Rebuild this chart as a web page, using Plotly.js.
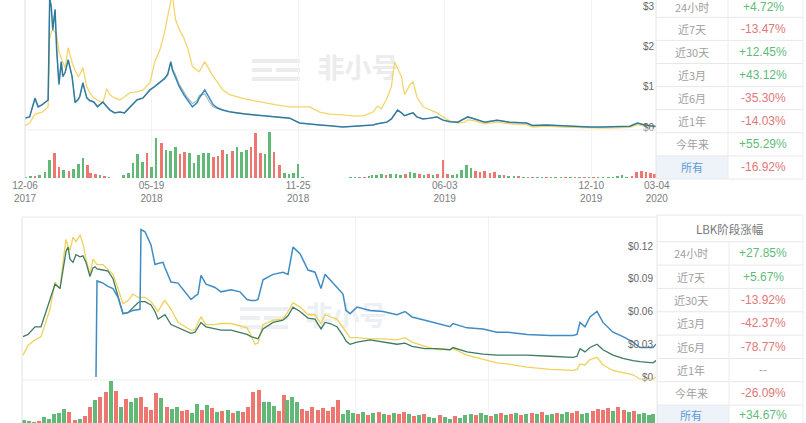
<!DOCTYPE html>
<html><head><meta charset="utf-8">
<script src="https://cdn.plot.ly/plotly-3.0.1.min.js"></script>
<style>html,body{margin:0;padding:0;background:#fff;}#chart{width:806px;height:423px;}</style>
</head><body><div id="chart"></div>
<script>
// ================= DATA =================
// --- upper chart: price lines ---
const topDates = ['2017-12-06','2017-12-12','2017-12-19','2017-12-23','2017-12-28','2018-01-01','2018-01-05','2018-01-07','2018-01-09','2018-01-11',
'2018-01-14','2018-01-16','2018-01-19','2018-01-22','2018-01-24','2018-01-27','2018-01-31','2018-02-05','2018-02-09','2018-02-13',
'2018-02-15','2018-02-19','2018-02-24','2018-02-28','2018-03-05','2018-03-10','2018-03-17','2018-03-22','2018-03-26','2018-04-01',
'2018-04-08','2018-04-14','2018-04-21','2018-04-30','2018-05-08','2018-05-17','2018-05-23','2018-05-30','2018-06-05','2018-06-09',
'2018-06-13','2018-06-15','2018-06-19','2018-06-24','2018-06-30','2018-07-05','2018-07-11','2018-07-17','2018-07-20','2018-07-27',
'2018-08-02','2018-08-07','2018-08-13','2018-08-19','2018-08-28','2018-09-06','2018-09-17','2018-09-30','2018-10-13','2018-10-28',
'2018-11-14','2018-11-27','2018-12-10','2018-12-23','2019-01-05','2019-01-22','2019-02-06','2019-02-19','2019-03-02','2019-03-08',
'2019-03-13','2019-03-20','2019-03-26','2019-03-30','2019-04-03','2019-04-08','2019-04-12','2019-04-19','2019-04-23','2019-04-28',
'2019-05-06','2019-05-15','2019-05-24','2019-06-01','2019-06-10','2019-06-20','2019-06-29','2019-07-03','2019-07-12','2019-07-25',
'2019-08-10','2019-08-26','2019-09-17','2019-09-25','2019-10-13','2019-11-03','2019-11-21','2019-12-08','2019-12-25','2020-01-12',
'2020-01-29','2020-02-08','2020-02-15','2020-02-24','2020-03-03'];
const topBlue = [0.22,0.25,0.72,0.50,0.55,0.60,0.67,3.20,3.00,2.40,
2.92,1.92,1.05,1.62,1.25,1.35,1.67,1.25,0.60,0.68,
0.75,1.10,0.72,0.65,0.62,0.50,0.62,0.50,0.42,0.35,
0.37,0.35,0.50,0.67,0.72,0.92,1.00,1.10,1.20,1.30,
1.62,1.42,1.25,1.00,0.80,0.65,0.50,0.60,0.72,0.92,
0.70,0.55,0.47,0.42,0.38,0.35,0.32,0.30,0.28,0.25,
0.22,0.10,0.07,0.05,0.03,0.00,0.02,0.03,0.05,0.08,
0.10,0.12,0.20,0.30,0.42,0.35,0.28,0.33,0.35,0.25,
0.20,0.22,0.25,0.17,0.13,0.12,0.20,0.25,0.20,0.12,
0.17,0.12,0.10,0.04,0.05,0.03,0.02,0.00,0.00,0.01,
0.02,0.10,0.06,0.03,0.02];
const topGreen = [0.22,0.25,0.70,0.50,0.55,0.60,0.67,3.15,2.95,2.45,
2.90,1.95,1.10,1.60,1.28,1.35,1.65,1.27,0.62,0.70,
0.77,1.08,0.74,0.66,0.63,0.52,0.62,0.52,0.43,0.36,
0.37,0.35,0.50,0.67,0.72,0.92,1.00,1.12,1.22,1.32,
1.60,1.45,1.30,1.05,0.85,0.72,0.58,0.65,0.78,0.82,
0.62,0.50,0.45,0.42,0.38,0.35,0.32,0.30,0.28,0.25,
0.22,0.10,0.07,0.05,0.03,0.00,0.02,0.03,0.05,0.08,
0.10,0.12,0.20,0.30,0.42,0.35,0.28,0.33,0.35,0.25,
0.20,0.22,0.25,0.17,0.13,0.12,0.20,0.25,0.20,0.12,
0.17,0.12,0.10,0.04,0.05,0.03,0.02,0.00,0.00,0.01,
0.02,0.10,0.06,0.03,0.02];
const topYellow = [0.03,0.10,0.32,0.35,0.37,0.42,0.50,2.20,2.35,2.42,
2.35,2.30,1.85,1.70,1.60,1.47,1.97,1.60,1.40,1.25,
1.30,1.47,1.00,0.85,0.72,0.67,0.60,0.95,0.80,0.72,
0.67,0.75,0.85,0.87,0.92,1.10,1.60,1.92,2.35,2.75,
3.20,3.30,2.67,2.42,2.20,1.95,1.50,1.40,1.37,1.62,
1.42,1.25,1.10,0.92,0.80,0.75,0.70,0.65,0.60,0.55,
0.50,0.50,0.50,0.37,0.32,0.30,0.27,0.28,0.37,0.52,
0.45,0.70,1.00,1.62,1.47,1.25,0.80,1.05,1.12,0.75,
0.50,0.42,0.35,0.25,0.15,0.10,0.12,0.18,0.15,0.08,
0.12,0.08,0.06,0.00,0.02,0.00,-0.01,-0.03,-0.03,-0.02,
-0.01,0.06,0.03,0.01,0.00];

// --- upper chart: volume bars ---
const topVolDates = ['2017-12-07','2017-12-13','2017-12-19','2017-12-25',
'2018-01-01','2018-01-07','2018-01-13','2018-01-19','2018-01-25','2018-02-01','2018-02-07','2018-02-13','2018-02-19','2018-02-25',
'2018-03-01','2018-03-07','2018-03-13','2018-03-19','2018-03-25','2018-04-01','2018-04-07','2018-04-13','2018-04-19','2018-04-25',
'2018-05-01','2018-05-07','2018-05-13','2018-05-19','2018-05-25','2018-06-01','2018-06-07','2018-06-13','2018-06-19','2018-06-25',
'2018-07-01','2018-07-07','2018-07-13','2018-07-19','2018-07-25','2018-08-01','2018-08-07','2018-08-13','2018-08-19','2018-08-25',
'2018-09-01','2018-09-07','2018-09-13','2018-09-19','2018-09-25','2018-10-01','2018-10-07','2018-10-13','2018-10-19','2018-10-25',
'2018-11-01','2018-11-07','2018-11-13','2018-11-19','2018-11-25','2018-12-01','2018-12-07','2018-12-13','2018-12-19','2018-12-25',
'2019-01-01','2019-01-07','2019-01-13','2019-01-19','2019-01-25','2019-02-01','2019-02-07','2019-02-13','2019-02-19','2019-02-25',
'2019-03-01','2019-03-07','2019-03-13','2019-03-19','2019-03-25','2019-04-01','2019-04-07','2019-04-13','2019-04-19','2019-04-25',
'2019-05-01','2019-05-07','2019-05-13','2019-05-19','2019-05-25','2019-06-01','2019-06-07','2019-06-13','2019-06-19','2019-06-25',
'2019-07-01','2019-07-07','2019-07-13','2019-07-19','2019-07-25','2019-08-01','2019-08-07','2019-08-13','2019-08-19','2019-08-25',
'2019-09-01','2019-09-07','2019-09-13','2019-09-19','2019-09-25','2019-10-01','2019-10-07','2019-10-13','2019-10-19','2019-10-25',
'2019-11-01','2019-11-07','2019-11-13','2019-11-19','2019-11-25','2019-12-01','2019-12-07','2019-12-13','2019-12-19','2019-12-25',
'2020-01-01','2020-01-07','2020-01-13','2020-01-19','2020-01-25','2020-02-01','2020-02-07','2020-02-13','2020-02-19','2020-02-25',
'2020-03-01'];
const topVol = [1,2,2,3,
6,18,25,11,8, 7,9,14,20,13,
5,4,3,2,1.5, 0.5,0.5,3,5,15,
24,16,25,11,40, 35,28,27,31,24,
26,25,15,23,25, 25,21,22,28,24,
27,31,26,28,31, 45,25,24,46,26,
13,5,4,5,14, 1,0.5,0.5,0.5,0.5,
0.5,0.5,0.5,0.5,0.5, 0.7,1,1.5,1.5,2,
3,3,4,3,4, 4,3,4,6,5,
4,3,4,3,4, 18,4,3,4,8,
13,10,7,6,7, 5,6,3,3,2,
2,2,1.5,1.5,1, 1,1,0.7,0.7,0.7,
0.7,0.7,0.7,0.7,0.7, 0.7,0.7,0.7,0.7,0.7,
1,1,2,3,1.5, 2,6,7,6,5,
4];
const topVolUp = [1,1,0,1,
1,1,0,0,1, 0,1,1,1,0,
0,0,1,0,1, 1,0,1,1,1,
1,1,0,1,1, 0,1,1,1,0,
0,1,1,1,1, 1,0,0,0,1,
0,1,1,1,0, 0,0,1,1,0,
0,1,1,1,1, 1,1,0,1,0,
1,0,1,0,1, 1,1,1,0,1,
1,1,1,0,1, 1,1,0,1,1,
0,1,0,1,0, 0,0,1,1,1,
1,1,0,0,0, 0,0,1,0,1,
1,0,1,1,0, 1,1,0,1,1,
1,0,1,0,1, 0,1,0,1,1,
1,1,1,1,1, 0,0,0,0,0,
0];

const topTickDates = ['2017-12-06','2018-05-19','2018-11-25','2019-06-03','2019-12-10','2020-03-04'];
const topTickLabels = ['12-06<br>2017','05-19<br>2018','11-25<br>2018','06-03<br>2019','12-10<br>2019','03-04<br>2020'];
const topPriceTicks = [0,1,2,3];
const topPriceLabels = ['$0','$1','$2','$3'];

// --- lower chart: price lines ---
const botDates = ['2018-06-10','2018-06-15','2018-06-22','2018-06-28','2018-07-02','2018-07-07','2018-07-12','2018-07-17','2018-07-20','2018-07-23',
'2018-07-25','2018-07-27','2018-07-30','2018-08-02','2018-08-06','2018-08-09','2018-08-12','2018-08-16','2018-08-19','2018-08-21',
'2018-08-22','2018-08-23','2018-08-29','2018-09-03','2018-09-08','2018-09-13','2018-09-18','2018-09-23','2018-09-28','2018-10-03',
'2018-10-05','2018-10-06','2018-10-10','2018-10-16','2018-10-20','2018-10-23','2018-10-28','2018-10-30','2018-11-05','2018-11-12',
'2018-11-19','2018-11-25','2018-11-29','2018-12-02','2018-12-05','2018-12-10','2018-12-19','2018-12-25','2019-01-04','2019-01-13',
'2019-01-20','2019-01-24','2019-01-28','2019-01-31','2019-02-05','2019-02-15','2019-02-25','2019-03-02','2019-03-07','2019-03-14',
'2019-03-22','2019-03-29','2019-04-04','2019-04-08','2019-04-13','2019-04-20','2019-04-26','2019-04-29','2019-05-03','2019-05-10',
'2019-05-23','2019-06-05','2019-06-19','2019-06-27','2019-07-04','2019-07-17','2019-07-29','2019-08-11','2019-08-14','2019-08-28',
'2019-09-13','2019-09-27','2019-10-07','2019-10-27','2019-11-19','2019-12-12','2019-12-16','2019-12-19','2019-12-24','2019-12-29',
'2020-01-05','2020-01-11','2020-01-21','2020-01-31','2020-02-10','2020-02-17','2020-03-01','2020-03-04'];
const botYellow = [0.020,0.029,0.034,0.037,0.048,0.062,0.087,0.081,0.105,0.126,
0.120,0.116,0.128,0.124,0.130,0.122,0.108,0.094,0.108,0.106,
0.104,0.103,0.103,0.098,0.094,0.081,0.067,0.070,0.076,0.073,
0.073,0.073,0.073,0.069,0.064,0.060,0.068,0.070,0.062,0.050,
0.046,0.043,0.043,0.050,0.055,0.048,0.048,0.049,0.049,0.047,
0.045,0.038,0.030,0.031,0.048,0.052,0.053,0.060,0.068,0.064,
0.057,0.057,0.049,0.057,0.055,0.053,0.045,0.042,0.036,0.036,
0.035,0.035,0.034,0.036,0.032,0.028,0.025,0.025,0.026,0.020,
0.016,0.013,0.012,0.009,0.007,0.006,0.007,0.012,0.011,0.016,
0.018,0.011,0.006,0.004,0.002,-0.002,-0.002,0.000];
const botGreen = [0.037,0.039,0.046,0.046,0.057,0.070,0.085,0.081,0.100,0.115,
0.119,0.108,0.105,0.112,0.110,0.111,0.105,0.092,0.100,0.101,
0.100,0.099,0.098,0.097,0.090,0.073,0.058,0.059,0.064,0.068,
0.069,0.069,0.069,0.066,0.060,0.053,0.056,0.057,0.048,0.045,
0.042,0.040,0.041,0.046,0.050,0.046,0.044,0.043,0.043,0.041,
0.039,0.037,0.036,0.035,0.044,0.050,0.052,0.056,0.064,0.060,
0.054,0.053,0.044,0.050,0.049,0.046,0.038,0.033,0.030,0.032,
0.034,0.032,0.030,0.031,0.028,0.026,0.026,0.025,0.027,0.023,
0.021,0.020,0.020,0.020,0.019,0.018,0.019,0.026,0.023,0.027,
0.030,0.025,0.020,0.017,0.015,0.014,0.013,0.015];
const botBlue = [null,null,null,null,null,null,null,null,null,null,
null,null,null,null,null,null,null,null,null,null,
0.000,0.088,0.086,0.083,0.081,0.073,0.058,0.059,0.061,0.062,
0.062,0.135,0.133,0.121,0.103,0.104,0.105,0.100,0.087,0.086,
0.078,0.071,0.074,0.076,0.093,0.085,0.082,0.078,0.080,0.078,
0.071,0.070,0.070,0.071,0.089,0.094,0.096,0.094,0.119,0.113,
0.098,0.096,0.081,0.094,0.089,0.082,0.076,0.061,0.058,0.064,
0.061,0.060,0.057,0.060,0.055,0.052,0.049,0.046,0.049,0.045,
0.044,0.041,0.041,0.039,0.038,0.038,0.039,0.050,0.046,0.055,
0.060,0.050,0.041,0.037,0.032,0.027,0.027,0.030];

// --- lower chart: volume bars ---
const botVolDates = ['2018-06-11','2018-06-16','2018-06-21','2018-06-26',
'2018-07-01','2018-07-06','2018-07-11','2018-07-16','2018-07-21','2018-07-26',
'2018-08-01','2018-08-06','2018-08-11','2018-08-16','2018-08-21','2018-08-26',
'2018-09-01','2018-09-06','2018-09-11','2018-09-16','2018-09-21','2018-09-26',
'2018-10-01','2018-10-06','2018-10-11','2018-10-16','2018-10-21','2018-10-26',
'2018-11-01','2018-11-06','2018-11-11','2018-11-16','2018-11-21','2018-11-26',
'2018-12-01','2018-12-06','2018-12-11','2018-12-16','2018-12-21','2018-12-26',
'2019-01-01','2019-01-06','2019-01-11','2019-01-16','2019-01-21','2019-01-26',
'2019-02-01','2019-02-06','2019-02-11','2019-02-16','2019-02-21','2019-02-26',
'2019-03-01','2019-03-06','2019-03-11','2019-03-16','2019-03-21','2019-03-26',
'2019-04-01','2019-04-06','2019-04-11','2019-04-16','2019-04-21','2019-04-26',
'2019-05-01','2019-05-06','2019-05-11','2019-05-16','2019-05-21','2019-05-26',
'2019-06-01','2019-06-06','2019-06-11','2019-06-16','2019-06-21','2019-06-26',
'2019-07-01','2019-07-06','2019-07-11','2019-07-16','2019-07-21','2019-07-26',
'2019-08-01','2019-08-06','2019-08-11','2019-08-16','2019-08-21','2019-08-26',
'2019-09-01','2019-09-06','2019-09-11','2019-09-16','2019-09-21','2019-09-26',
'2019-10-01','2019-10-06','2019-10-11','2019-10-16','2019-10-21','2019-10-26',
'2019-11-01','2019-11-06','2019-11-11','2019-11-16','2019-11-21','2019-11-26',
'2019-12-01','2019-12-06','2019-12-11','2019-12-16','2019-12-21','2019-12-26',
'2020-01-01','2020-01-06','2020-01-11','2020-01-16','2020-01-21','2020-01-26',
'2020-02-01','2020-02-06','2020-02-11','2020-02-16','2020-02-21','2020-02-26',
'2020-03-01'];
const botVol = [3,2,1,2,
6,4,9,10,14,11, 3,4,7,16,23,26, 31,42,32,16,24,21,
25,26,16,13,30,25, 16,14,16,12,13,10, 19,13,18,15,11,12,
13,10,12,11,16,31, 33,21,21,17,12,28, 23,26,21,14,12,16,
13,15,12,16,23,9, 13,10,9,11,8,10, 11,9,8,10,9,11,
9,7,8,9,6,5, 8,6,4,7,5,8, 9,8,10,8,7,9,
10,8,9,10,8,9, 10,9,11,8,9,10, 9,11,10,12,9,10,
12,14,13,15,12,16, 13,11,12,9,10,8,
9];
const botVolUp = [1,1,1,0,
1,1,1,1,1,0, 0,1,0,0,1,0, 0,1,0,1,0,1,
1,0,0,0,0,1, 0,1,1,0,0,1, 1,0,1,0,1,0,
1,0,1,0,0,0, 0,1,1,1,0,0, 1,1,1,0,0,0,
0,0,0,0,0,1, 1,1,0,1,0,1, 0,1,0,1,0,0,
1,0,1,0,1,1, 0,1,1,0,1,1, 1,0,1,1,0,1,
0,1,0,1,0,1, 0,1,0,1,1,0, 1,1,0,0,1,1,
0,0,0,0,1,0, 0,1,0,1,1,1,
1];
const botPriceTicks = [0,0.03,0.06,0.09,0.12];
const botPriceLabels = ['$0','$0.03','$0.06','$0.09','$0.12'];
const botGridDates = ['2019-05-08','2019-09-18'];

// --- tables ---
const periodLabels = ['24小时','近7天','近30天','近3月','近6月','近1年','今年来','所有'];
const topTableValues = ['+4.72%','-13.47%','+12.45%','+43.12%','-35.30%','-14.03%','+55.29%','-16.92%'];
const botTableTitle = 'LBK阶段涨幅';
const botTableValues = ['+27.85%','+5.67%','-13.92%','-42.37%','-78.77%','--','-26.09%','+34.67%'];
const watermarkText = '非小号';

// ================= RENDER =================
const W = 806, H = 423;
const px = v => v / W;          // horizontal pixel -> paper fraction
const py = v => 1 - v / H;      // vertical pixel (from top) -> paper fraction
const FONT = 'Liberation Sans, Arial, sans-serif';
const CJK = 'Noto Sans CJK SC, sans-serif';
const UP = '#55b36c', DOWN = '#ec6b66';
const DAY = 86400000;

const traces = [
  {type:'bar', x:topVolDates, y:topVol, xaxis:'x', yaxis:'y2', width:3.4*DAY,
   marker:{color:topVolUp.map(u => u ? UP : DOWN), line:{width:0}}, opacity:0.92, hoverinfo:'skip'},
  {type:'scatter', mode:'lines', x:topDates, y:topYellow, xaxis:'x', yaxis:'y', line:{color:'#f3d66a', width:1.3}},
  {type:'scatter', mode:'lines', x:topDates, y:topBlue, xaxis:'x', yaxis:'y', line:{color:'#3a88c4', width:1.5}},
  {type:'scatter', mode:'lines', x:topDates, y:topGreen, xaxis:'x', yaxis:'y', line:{color:'rgba(45,100,80,0.45)', width:1.1}},

  {type:'bar', x:botVolDates, y:botVol, xaxis:'x2', yaxis:'y4', width:3.1*DAY,
   marker:{color:botVolUp.map(u => u ? UP : DOWN), line:{width:0}}, opacity:0.92, hoverinfo:'skip'},
  {type:'scatter', mode:'lines', x:botDates, y:botYellow, xaxis:'x2', yaxis:'y3', line:{color:'#f0d25a', width:1.3}},
  {type:'scatter', mode:'lines', x:botDates, y:botGreen, xaxis:'x2', yaxis:'y3', line:{color:'#3f7b63', width:1.3}},
  {type:'scatter', mode:'lines', x:botDates, y:botBlue, xaxis:'x2', yaxis:'y3', line:{color:'#3f8cc4', width:1.5}, connectgaps:false}
];

const shapes = [];
const annotations = [];
const ln = (x0,y0,x1,y1,color,layer) => shapes.push({type:'line', xref:'paper', yref:'paper',
  x0:px(x0), y0:py(y0), x1:px(x1), y1:py(y1), line:{color:color||'#e6e6e6', width:1}, layer:layer||'above'});
const rect = (x0,y0,x1,y1,fill,layer) => shapes.push({type:'rect', xref:'paper', yref:'paper',
  x0:px(x0), y0:py(y0), x1:px(x1), y1:py(y1), line:{width:0}, fillcolor:fill, layer:layer||'above'});

// watermarks (behind lines)
const wm = (cx, cy, col) => {
  rect(cx-78, cy-11, cx-30, cy-7, col, 'below');
  rect(cx-78, cy-2, cx-58, cy+2, col, 'below');
  rect(cx-54, cy-2, cx-30, cy+2, col, 'below');
  rect(cx-78, cy+7, cx-30, cy+11, col, 'below');
  shapes.push({type:'rect', xref:'paper', yref:'paper', layer:'below',
    x0:px(cx-24), x1:px(cx+80), y0:py(cy+14), y1:py(cy-14), line:{width:0}, fillcolor:'rgba(0,0,0,0)',
    label:{text:watermarkText, textposition:'middle center', font:{family:CJK, size:27, color:col, weight:'bold'}}});
};
wm(330, 70, '#ececec');
wm(318, 318, '#eceff3');

// chart frames
ln(25, 0, 25, 178, '#dedede');
ln(25, 130, 656, 130, '#efefef');
ln(22, 217, 803, 217, '#e8e8e8');
ln(22, 217, 22, 423, '#e2e2e2');
ln(22, 380, 656, 380, '#efefef');

// ---- upper table ----
const tL = 656, tM = 728, tR = 803;
const topRow0 = 17.3, rowH = 23.1;
rect(tL, 0, W, 179.5, '#ffffff');
rect(tL, topRow0 + 6*rowH, tM, topRow0 + 7*rowH, '#eef3f9');
for (let k = 0; k < 8; k++) ln(tL, topRow0 + k*rowH, tR, topRow0 + k*rowH, '#e8e8e8');
ln(tL, 0, tL, topRow0 + 7*rowH, '#e6e6e6');
ln(tM, 0, tM, topRow0 + 7*rowH, '#ececec');
ln(tR, 0, tR, topRow0 + 7*rowH, '#ececec');

const valColor = v => v.startsWith('+') ? '#5fbb7c' : (v.startsWith('-') && v !== '--' ? '#e07878' : '#aaaaaa');
periodLabels.forEach((lab, i) => {
  const cy = Math.max(topRow0 + i*rowH - rowH/2, 7.5);
  annotations.push({xref:'paper', yref:'paper', x:px(692), y:py(cy), text:lab, showarrow:false,
    font:{family:CJK, size:11, color: lab === '所有' ? '#5b9ad6' : '#a0a0a0'}, xanchor:'center', yanchor:'middle'});
  annotations.push({xref:'paper', yref:'paper', x:px(763), y:py(cy), text:topTableValues[i], showarrow:false,
    font:{family:FONT, size:12, color:valColor(topTableValues[i])}, xanchor:'center', yanchor:'middle'});
});

// ---- lower table ----
const bL = 657, bM = 729, bR = 803;
const botRow0 = 241.7, bRowH = 23.35;
rect(bL, 215, W, H, '#ffffff');
rect(bL, botRow0 + 7*bRowH, bM, H, '#eef3f9');
ln(bL, 215, bR, 215, '#e8e8e8');
for (let k = 0; k < 8; k++) ln(bL, botRow0 + k*bRowH, bR, botRow0 + k*bRowH, '#e8e8e8');
ln(bL, 215, bL, H, '#e6e6e6');
ln(bM, botRow0, bM, H, '#ececec');
ln(bR, 215, bR, H, '#ececec');
annotations.push({xref:'paper', yref:'paper', x:px(729), y:py(229), text:botTableTitle, showarrow:false,
  font:{family:CJK, size:11.5, color:'#777777'}, xanchor:'center', yanchor:'middle'});
periodLabels.forEach((lab, i) => {
  const cy = Math.min(botRow0 + i*bRowH + bRowH/2, 415);
  annotations.push({xref:'paper', yref:'paper', x:px(691), y:py(cy), text:lab, showarrow:false,
    font:{family:CJK, size:11, color: lab === '所有' ? '#5b9ad6' : '#a0a0a0'}, xanchor:'center', yanchor:'middle'});
  annotations.push({xref:'paper', yref:'paper', x:px(763), y:py(cy), text:botTableValues[i], showarrow:false,
    font:{family:FONT, size:12, color:valColor(botTableValues[i])}, xanchor:'center', yanchor:'middle'});
});

const layout = {
  width:W, height:H, margin:{l:0, r:0, t:0, b:0},
  paper_bgcolor:'#ffffff', plot_bgcolor:'rgba(0,0,0,0)',
  showlegend:false, bargap:0, hovermode:false,
  xaxis:{domain:[px(25), px(657)], type:'date', range:['2017-12-06','2020-03-04 06:00'], anchor:'y2',
    tickmode:'array', tickvals:topTickDates, ticktext:topTickLabels, ticks:'',
    showgrid:true, gridcolor:'#f3f3f3', zeroline:false, showline:false, ticklabeloverflow:'allow',
    tickfont:{family:FONT, size:10, color:'#7c7c7c'}, fixedrange:true},
  yaxis:{domain:[py(130), 1], range:[-0.0744, 3.149], anchor:'x', side:'right', ticklabelposition:'inside',
    ticklabeloverflow:'allow',
    tickmode:'array', tickvals:topPriceTicks, ticktext:topPriceLabels, ticks:'',
    showgrid:false, zeroline:false, showline:false, tickfont:{family:FONT, size:10, color:'#666666'}},
  yaxis2:{domain:[py(178), py(130)], range:[0, 48], anchor:'x', visible:false},
  xaxis2:{domain:[px(22), px(656)], type:'date', range:['2018-06-09','2020-03-04'], anchor:'y4',
    tickmode:'array', tickvals:botGridDates, showticklabels:false, ticks:'',
    showgrid:true, gridcolor:'#f1f1f1', zeroline:false, showline:false},
  yaxis3:{domain:[py(380), py(217)], range:[-0.00275, 0.14656], anchor:'x2', side:'right', ticklabelposition:'inside',
    ticklabeloverflow:'allow',
    tickmode:'array', tickvals:botPriceTicks, ticktext:botPriceLabels, ticks:'',
    showgrid:false, zeroline:false, showline:false, tickfont:{family:FONT, size:10, color:'#666666'}},
  yaxis4:{domain:[0, py(380)], range:[0, 43], anchor:'x2', visible:false},
  shapes:shapes,
  annotations:annotations
};

Plotly.newPlot('chart', traces, layout, {displayModeBar:false, staticPlot:true});
</script>
</body></html>
